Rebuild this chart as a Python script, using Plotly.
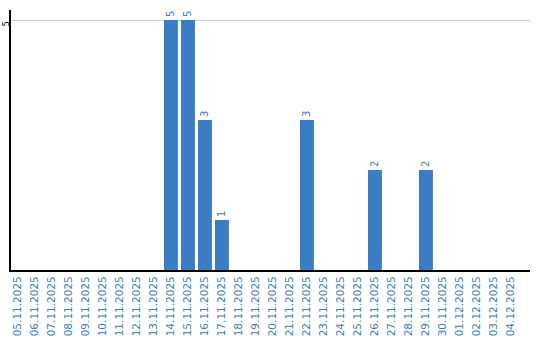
import plotly.graph_objects as go

dates = ["05.11.2025", "06.11.2025", "07.11.2025", "08.11.2025", "09.11.2025",
         "10.11.2025", "11.11.2025", "12.11.2025", "13.11.2025", "14.11.2025",
         "15.11.2025", "16.11.2025", "17.11.2025", "18.11.2025", "19.11.2025",
         "20.11.2025", "21.11.2025", "22.11.2025", "23.11.2025", "24.11.2025",
         "25.11.2025", "26.11.2025", "27.11.2025", "28.11.2025", "29.11.2025",
         "30.11.2025", "01.12.2025", "02.12.2025", "03.12.2025", "04.12.2025"]
values = [0, 0, 0, 0, 0, 0, 0, 0, 0, 5,
          5, 3, 1, 0, 0, 0, 0, 3, 0, 0,
          0, 2, 0, 0, 2, 0, 0, 0, 0, 0]
labels = [str(v) if v else "" for v in values]

BLUE = "#3b7dc3"
FONT = "DejaVu Sans"

fig = go.Figure(go.Bar(
    x=dates, y=values, marker_color=BLUE, marker_line_width=0,
    text=labels, textposition="outside", textangle=-90,
    textfont=dict(color=BLUE, size=10, family=FONT),
    cliponaxis=False, width=0.82,
))
fig.update_layout(
    width=540, height=340,
    margin=dict(l=11, r=10, t=10, b=70, autoexpand=False),
    paper_bgcolor="white", plot_bgcolor="white",
    showlegend=False,
    font=dict(family=FONT, size=10),
    uniformtext=dict(minsize=10, mode="show"),
)
fig.update_xaxes(
    type="category", range=[-0.41, 30.12], automargin=False,
    tickangle=-90, tickfont=dict(color=BLUE, size=10.5, family=FONT),
    showline=True, linecolor="black", linewidth=2, showgrid=False,
    ticks="", ticklen=0,
)
fig.update_yaxes(
    range=[0, 5.2], tickvals=[5], ticktext=["5"], tickangle=-90, automargin=False,
    tickfont=dict(color="black", size=8, family=FONT),
    showline=True, linecolor="black", linewidth=2,
    showgrid=True, gridcolor="#cccccc", gridwidth=1, zeroline=False,
    ticks="", ticklabelstandoff=-3, ticklabelshift=5,
)
fig.write_html("out.html")
